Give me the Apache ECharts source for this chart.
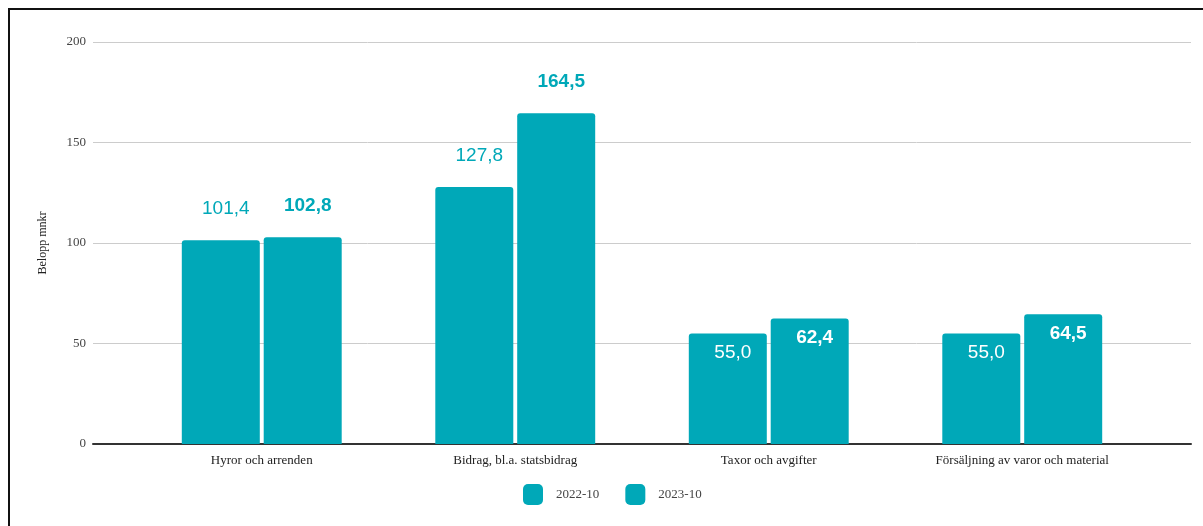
<!DOCTYPE html>
<html><head><meta charset="utf-8">
<script src="https://cdn.jsdelivr.net/npm/echarts@6/dist/echarts.min.js"></script>
<style>
html,body{margin:0;padding:0;background:#fff;overflow:hidden}
#frame{position:absolute;left:8px;top:8px;width:1400px;height:800px;border-top:2px solid #111;border-left:2px solid #111;box-sizing:border-box}
#c{position:absolute;left:0;top:0;width:1203px;height:526px}
</style></head>
<body>
<div id="frame"></div>
<div id="c"></div>
<script>
const categories = ['Hyror och arrenden', 'Bidrag, bl.a. statsbidrag', 'Taxor och avgifter', 'Försäljning av varor och material'];
const series2022 = [101.4, 127.8, 55.0, 55.0];
const series2023 = [102.8, 164.5, 62.4, 64.5];
const seriesNames = ['2022-10', '2023-10'];
const yTicks = { min: 0, max: 200, interval: 50 };

const teal = '#00a8b8';
const fmt = v => v.toFixed(1).replace('.', ',');

function makeData(values, bold) {
  return values.map(v => {
    const inside = v < 100;
    return {
      value: v,
      label: {
        show: true,
        position: inside ? 'insideTop' : 'top',
        distance: inside ? 10 : 22,
        offset: [5, 0],
        color: inside ? '#ffffff' : teal,
        fontFamily: 'Liberation Sans, Arial, sans-serif',
        fontSize: 19,
        fontWeight: bold ? 'bold' : 'normal',
        formatter: p => fmt(p.value)
      }
    };
  });
}

const chart = echarts.init(document.getElementById('c'), null, { renderer: 'canvas' });
chart.setOption({
  animation: false,
  grid: [
    { left: 93, right: 12, top: 42, bottom: 82 },
    { left: 135, right: 54, top: 42, bottom: 82 }
  ],
  legend: {
    left: 523, top: 484, padding: 0,
    itemWidth: 20, itemHeight: 21, itemGap: 26,
    icon: 'roundRect',
    textStyle: { fontFamily: 'Liberation Serif, Times New Roman, serif', fontSize: 13, color: '#444', padding: [0, 0, 0, 8] },
    data: seriesNames
  },
  xAxis: [
    { gridIndex: 0, type: 'value', min: 0, max: 1, axisLine: { show: true, onZero: true, lineStyle: { color: '#333', width: 2 } },
      axisTick: { show: false }, axisLabel: { show: false }, splitLine: { show: false } },
    { gridIndex: 1, type: 'category', data: categories, axisLine: { show: false }, axisTick: { show: false },
      axisLabel: { margin: 10, color: '#222', fontFamily: 'Liberation Serif, Times New Roman, serif', fontSize: 13, interval: 0 } }
  ],
  yAxis: [
    { gridIndex: 0, type: 'value', min: yTicks.min, max: yTicks.max, interval: yTicks.interval,
      name: 'Belopp mnkr', nameLocation: 'middle', nameGap: 44, nameRotate: 90,
      nameTextStyle: { fontFamily: 'Liberation Serif, Times New Roman, serif', fontSize: 12, color: '#222' },
      axisLine: { show: false }, axisTick: { show: false },
      axisLabel: { margin: 7, color: '#444', fontFamily: 'Liberation Serif, Times New Roman, serif', fontSize: 13 },
      splitLine: { show: true, lineStyle: { color: '#cccccc', width: 1 } } },
    { gridIndex: 1, type: 'value', min: yTicks.min, max: yTicks.max, interval: yTicks.interval, show: false,
      splitLine: { show: false } }
  ],
  series: [
    { name: seriesNames[0], type: 'bar', xAxisIndex: 1, yAxisIndex: 1, barWidth: 78, barGap: '5%',
      itemStyle: { color: teal, borderRadius: [3, 3, 0, 0] }, data: makeData(series2022, false) },
    { name: seriesNames[1], type: 'bar', xAxisIndex: 1, yAxisIndex: 1, barWidth: 78, barGap: '5%',
      itemStyle: { color: teal, borderRadius: [3, 3, 0, 0] }, data: makeData(series2023, true) }
  ]
});
</script>
</body></html>
